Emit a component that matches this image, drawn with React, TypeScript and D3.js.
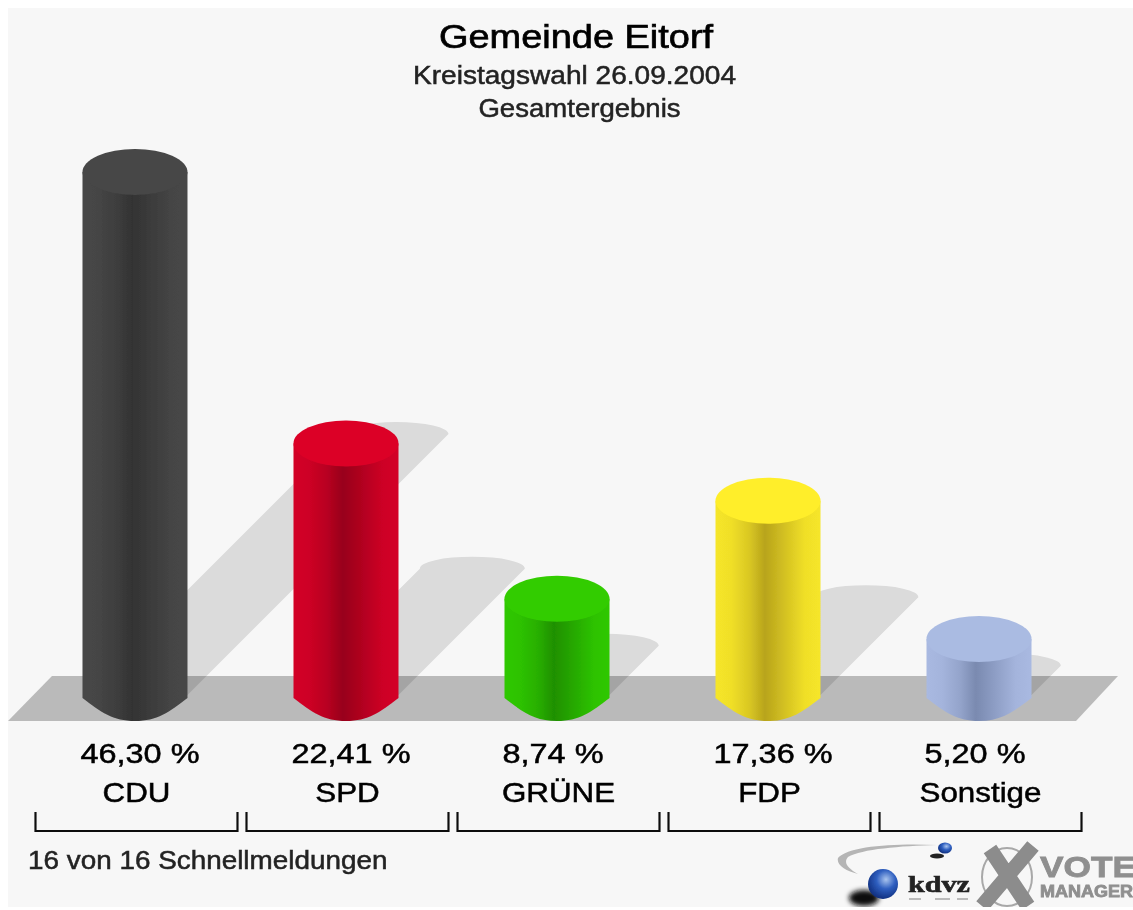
import React from "react";
import * as d3 from "d3";

const parties = ["CDU", "SPD", "GRÜNE", "FDP", "Sonstige"];
const shares = [46.3, 22.41, 8.74, 17.36, 5.2];
const shareLabels = ["46,30 %", "22,41 %", "8,74 %", "17,36 %", "5,20 %"];
const topColors = ["#464646", "#dc0028", "#33cc00", "#ffee2a", "#aabbe2"];
const edgeColors = ["#474747", "#d30026", "#2fc800", "#f6e629", "#a9b9e1"];
const coreColors = ["#333333", "#98001a", "#1f9000", "#b8a41c", "#7a8ab0"];

const width = 1133;
const height = 910;
const font = "'Liberation Sans', Arial, sans-serif";

// the reference is a stretched bitmap, so its type runs wider than it is tall
const Label = ({ x, y, size, sx = 1.14, anchor = "middle", fill = "#000", weight = 0.5, children }: any) => (
  <text
    transform={`translate(${x},${y}) scale(${sx},1)`}
    fontFamily={font}
    fontSize={size}
    textAnchor={anchor}
    fill={fill}
    stroke={fill}
    strokeWidth={weight}
  >
    {children}
  </text>
);

const App = () => {
  // brackets sit on the bands, the cylinders 1.5px left of their centre
  const x = d3
    .scaleBand<string>()
    .domain(parties)
    .range([31, 1086])
    .paddingInner(0.0427)
    .paddingOuter(0.0213);
  const y = d3.scaleLinear().domain([0, 46.3]).range([698, 172]);
  const shadowLength = d3.scaleLinear().domain([0, 46.3]).range([0, 261]);

  const rx = 52.5;
  const ry = 23;
  const centre = (p: string) => (x(p) as number) + x.bandwidth() / 2 - 1.5;
  const mix = (i: number, t: number) => d3.interpolateRgb(edgeColors[i], coreColors[i])(t);

  const bodyPath = (cx: number, top: number) => {
    const p = d3.path();
    p.moveTo(cx - rx, top);
    p.lineTo(cx - rx, y(0));
    p.bezierCurveTo(cx - rx + 18, y(0) + 14, cx - 22, y(0) + ry, cx, y(0) + ry);
    p.bezierCurveTo(cx + 22, y(0) + ry, cx + rx - 18, y(0) + 14, cx + rx, y(0));
    p.lineTo(cx + rx, top);
    p.closePath();
    return p.toString();
  };

  // sheared copy of the cylinder, running up to the right at 45 degrees
  const shadowPath = (cx: number, share: number) => {
    const base = 695;
    const len = shadowLength(share);
    const tip = base - len;
    return (
      `M${cx - rx},${base} L${cx - rx + len},${tip} ` +
      `A${rx},12 0 0 1 ${cx + rx + len},${tip} L${cx + rx},${base} Z`
    );
  };

  return (
    <svg
      width={width}
      height={height}
      style={{ position: "absolute", left: 0, top: 0, background: "#fff" }}
    >
      <defs>
        <filter id="soft" x="-2%" y="-2%" width="104%" height="104%">
          <feGaussianBlur stdDeviation="0.65" />
        </filter>
        {parties.map((p, i) => (
          <linearGradient id={`bar${i}`} key={p} x1="0" x2="1" y1="0" y2="0">
            <stop offset="0" stopColor={edgeColors[i]} />
            <stop offset="0.15" stopColor={mix(i, 0.1)} />
            <stop offset="0.32" stopColor={mix(i, 0.45)} />
            <stop offset="0.47" stopColor={coreColors[i]} />
            <stop offset="0.6" stopColor={mix(i, 0.7)} />
            <stop offset="0.85" stopColor={mix(i, 0.1)} />
            <stop offset="1" stopColor={edgeColors[i]} />
          </linearGradient>
        ))}
        <radialGradient id="orb" cx="0.6" cy="0.35" r="0.7">
          <stop offset="0" stopColor="#a9c4ee" />
          <stop offset="0.45" stopColor="#2f5fc0" />
          <stop offset="1" stopColor="#0d2a78" />
        </radialGradient>
        <filter id="logoBlur" x="-30%" y="-30%" width="160%" height="160%">
          <feGaussianBlur stdDeviation="2.5" />
        </filter>
        <clipPath id="page">
          <rect x="8" y="8" width={width - 8} height={height - 11} />
        </clipPath>
      </defs>

      <rect x="8" y="8" width={width - 8} height={height - 11} fill="#f7f7f7" />

      <g filter="url(#soft)" clipPath="url(#page)">
        <path d="M8,721 L52,676 L1118,676 L1076,721 Z" fill="#bababa" />

        {parties.map((p, i) => (
          <path key={p} d={shadowPath(centre(p), shares[i])} fill="#000" fillOpacity={0.115} />
        ))}

        {parties.map((p, i) => (
          <g key={p}>
            <path d={bodyPath(centre(p), y(shares[i]))} fill={`url(#bar${i})`} />
            <ellipse cx={centre(p)} cy={y(shares[i])} rx={rx} ry={ry} fill={topColors[i]} />
          </g>
        ))}

        <Label x={576} y={48} size={33} sx={1.15} weight={0.7}>Gemeinde Eitorf</Label>
        <Label x={574.5} y={84} size={26} sx={1.08} fill="#222">Kreistagswahl 26.09.2004</Label>
        <Label x={579.5} y={117} size={26} sx={1.06} fill="#222">Gesamtergebnis</Label>

        {parties.map((p, i) => (
          <g key={p}>
            <Label x={centre(p) - rx - 2} y={763} size={27.5} sx={1.18} anchor="start">{shareLabels[i]}</Label>
            <Label x={centre(p) + 1.5} y={802} size={27.5} sx={1.14}>{p}</Label>
            <path
              d={`M${x(p)},812 V831 H${(x(p) as number) + x.bandwidth()} V812`}
              fill="none"
              stroke="#111"
              strokeWidth={2.2}
            />
          </g>
        ))}

        <Label x={28} y={869} size={25} sx={1.115} anchor="start" fill="#222">16 von 16 Schnellmeldungen</Label>

        {/* kdvz / VOTE MANAGER logos */}
        <path
          d="M937,845 C895,843 848,846 838,858 C836,865 846,871 858,874 C848,868 843,863 848,857 C862,849 900,846 937,845 Z"
          fill="#b5b5b5"
        />
        <ellipse cx={937} cy={856} rx={7} ry={2.5} fill="#222" />
        <ellipse cx={945} cy={848} rx={7} ry={5.5} fill="url(#orb)" />
        <ellipse cx={864} cy={898} rx={15} ry={8} fill="#111" filter="url(#logoBlur)" />
        <circle cx={883} cy={884} r={15} fill="url(#orb)" />
        <text
          x={908}
          y={892}
          fontFamily="'Liberation Serif', serif"
          fontWeight="bold"
          fontSize={23}
          fill="#222"
          stroke="#222"
          strokeWidth={0.6}
          textLength={62}
          lengthAdjust="spacingAndGlyphs"
        >
          kdvz
        </text>
        <path d="M909,899 H921 M935,899 H950 M957,899 H968" stroke="#bbb" strokeWidth={2} />
        <ellipse cx={1007} cy={877} rx={25} ry={29} fill="none" stroke="#a8a8a8" strokeWidth={2} />
        <path d="M990,849 L1028,906 M1033,846 L982,906" stroke="#8c8c8c" strokeWidth={15} />
        <g fontFamily={font} fontWeight="bold" fill="#8f8f8f" stroke="#8f8f8f" strokeWidth={0.8}>
          <text x={1040} y={877} fontSize={30} textLength={96} lengthAdjust="spacingAndGlyphs">VOTE</text>
          <text x={1040} y={897} fontSize={16} textLength={93} lengthAdjust="spacingAndGlyphs">MANAGER</text>
        </g>
      </g>
    </svg>
  );
};

export default App;
